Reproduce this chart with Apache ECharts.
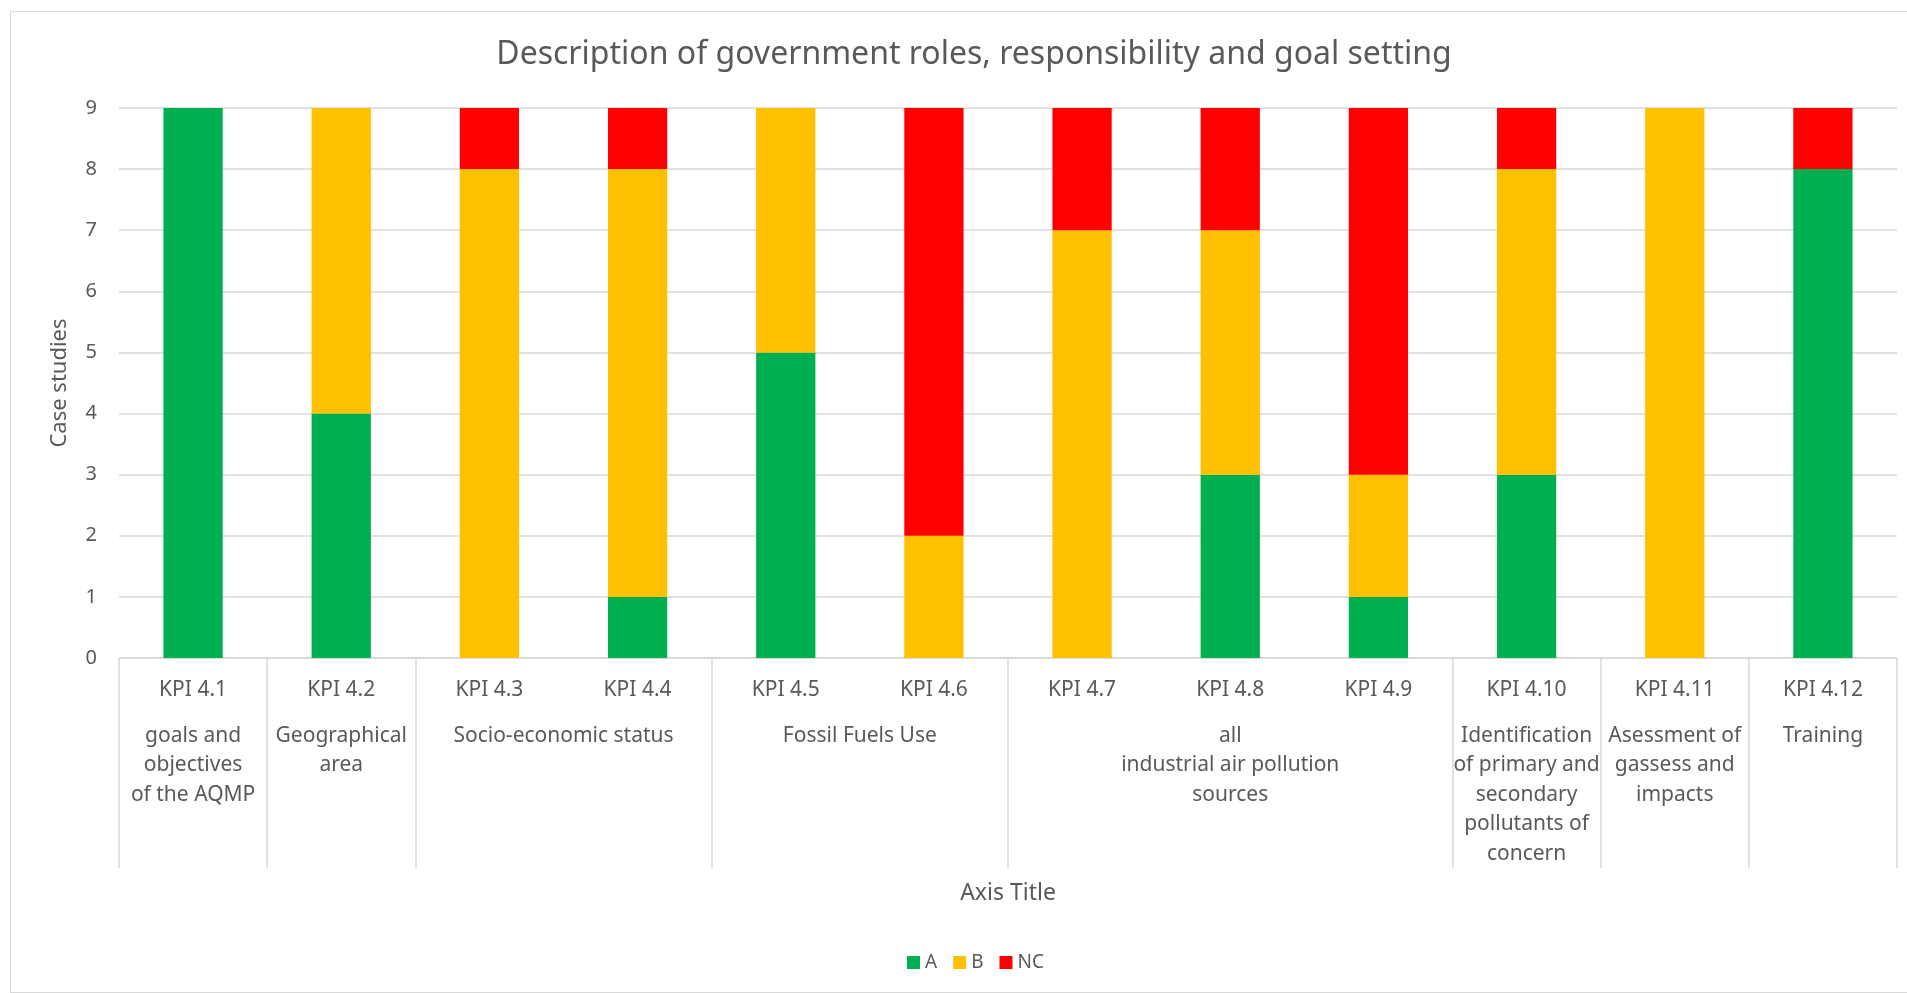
<!DOCTYPE html>
<html>
<head>
<meta charset="utf-8">
<script src="https://cdn.jsdelivr.net/npm/echarts@6/dist/echarts.min.js"></script>
<style>
  html, body { margin: 0; padding: 0; background: #fff; }
  #frame {
    position: absolute; left: 10px; top: 11px; right: -2px; bottom: 0px;
    border: 1px solid #d9d9d9;
  }
  #chart { position: absolute; left: 0; top: 0; width: 1907px; height: 993px; }
</style>
</head>
<body>
<div id="frame"></div>
<div id="chart"></div>
<script>
const kpis = ['KPI 4.1', 'KPI 4.2', 'KPI 4.3', 'KPI 4.4', 'KPI 4.5', 'KPI 4.6',
  'KPI 4.7', 'KPI 4.8', 'KPI 4.9', 'KPI 4.10', 'KPI 4.11', 'KPI 4.12']

// group labels under the KPIs and how many KPIs each one spans
const groupLabels = [
  'goals and\nobjectives\nof the AQMP',
  'Geographical\narea',
  'Socio-economic status',
  'Fossil Fuels Use',
  'all\nindustrial air pollution\nsources',
  'Identification\nof primary and\nsecondary\npollutants of\nconcern',
  'Asessment of\ngassess and\nimpacts',
  'Training',
]
const groupSpans = [1, 1, 2, 2, 3, 1, 1, 1]

const seriesA = [9, 4, 0, 1, 5, 0, 0, 3, 1, 3, 0, 8]
const seriesB = [0, 5, 8, 7, 4, 2, 7, 4, 2, 5, 9, 0]
const seriesNC = [0, 0, 1, 1, 0, 7, 2, 2, 6, 1, 0, 1]

const yTicks = [0, 1, 2, 3, 4, 5, 6, 7, 8, 9]

const textColor = '#595959'
const lineColor = '#d9d9d9'
const fontFamily = '"Noto Sans", sans-serif'

// group edges and centres on a 0..12 value scale
const groupEdges = [0]
groupSpans.forEach((s) => groupEdges.push(groupEdges[groupEdges.length - 1] + s))
const groupCenters = groupSpans.map((s, i) => groupEdges[i] + s / 2)

const chart = echarts.init(document.getElementById('chart'))

const barSeries = (name, data, color) => ({
  name,
  type: 'bar',
  stack: 'total',
  barCategoryGap: '60%',
  itemStyle: { color },
  data,
})

chart.setOption({
  backgroundColor: 'transparent',
  textStyle: { fontFamily },
  title: {
    text: 'Description of government roles, responsibility and goal setting',
    left: 969,
    top: 34,
    textAlign: 'center',
    textStyle: { color: textColor, fontSize: 32, fontWeight: 'normal', fontFamily },
  },
  legend: {
    data: ['A', 'B', 'NC'],
    left: 902,
    top: 948,
    icon: 'rect',
    itemWidth: 13,
    itemHeight: 13,
    itemGap: 16,
    textStyle: { color: textColor, fontSize: 19, fontFamily },
  },
  grid: { left: 119, right: 10, top: 108, bottom: 335 },
  xAxis: [
    {
      type: 'category',
      data: kpis,
      axisLine: { lineStyle: { color: lineColor, width: 1.5 } },
      axisTick: { show: false },
      axisLabel: { interval: 0, color: textColor, fontSize: 21, margin: 22 },
      name: 'Axis Title',
      nameLocation: 'middle',
      nameGap: 224,
      nameTextStyle: { color: textColor, fontSize: 23 },
    },
    {
      type: 'value',
      position: 'bottom',
      min: 0,
      max: 12,
      axisLine: { show: false },
      splitLine: { show: false },
      axisTick: {
        show: true,
        customValues: groupEdges,
        length: 210,
        lineStyle: { color: lineColor, width: 1.5 },
      },
      axisLabel: {
        customValues: groupCenters,
        color: textColor,
        fontSize: 21,
        lineHeight: 29.5,
        margin: 63,
        formatter: (v) => {
          const i = groupCenters.findIndex((c) => Math.abs(c - v) < 1e-6)
          return i >= 0 ? groupLabels[i] : ''
        },
      },
    },
  ],
  yAxis: {
    type: 'value',
    min: yTicks[0],
    max: yTicks[yTicks.length - 1],
    interval: 1,
    axisLine: { show: false },
    axisTick: { show: false },
    splitLine: { lineStyle: { color: lineColor, width: 1.5 } },
    axisLabel: { color: textColor, fontSize: 20, margin: 22 },
    name: 'Case studies',
    nameLocation: 'middle',
    nameGap: 48,
    nameTextStyle: { color: textColor, fontSize: 22 },
  },
  series: [
    barSeries('A', seriesA, '#00b050'),
    barSeries('B', seriesB, '#ffc000'),
    barSeries('NC', seriesNC, '#ff0000'),
  ],
})
</script>
</body>
</html>
